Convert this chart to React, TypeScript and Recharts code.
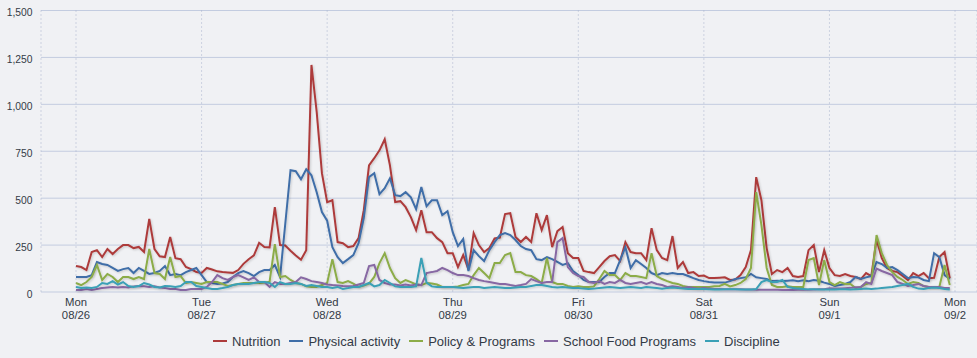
import { CartesianGrid, Legend, Line, LineChart, XAxis, YAxis } from "recharts";

// hourly mentions, Mon 08/26 00:00 -> Sun 09/1 23:00
const nutrition = [
  138, 133, 117, 213, 223, 186, 229, 202, 229, 250, 250, 234, 240, 213, 390, 229, 190, 186, 293, 180, 175, 133, 122, 106,
  101, 128, 120, 110, 106, 104, 102, 117, 150, 175, 195, 262, 240, 238, 452, 250, 248, 220, 195, 172, 222, 1210, 960, 633,
  479, 489, 266, 260, 239, 245, 287, 436, 675, 713, 755, 814, 675, 479, 484, 452, 399, 330, 436, 319, 319, 287, 266, 207,
  207, 133, 197, 120, 314, 250, 213, 234, 285, 290, 415, 420, 293, 266, 293, 266, 420, 330, 410, 239, 324, 346, 207, 181,
  181, 112, 106, 101, 133, 165, 191, 197, 165, 266, 213, 207, 207, 170, 340, 223, 181, 170, 298, 128, 160, 101, 106, 85,
  88, 74, 74, 76, 78, 64, 67, 90, 133, 223, 612, 489, 234, 96, 117, 106, 128, 85, 80, 85, 223, 250, 106, 223,
  128, 90, 85, 96, 85, 80, 69, 101, 85, 280, 181, 128, 112, 106, 85, 64, 101, 85, 101, 74, 76, 186, 213, 74,
];

const physical = [
  80, 80, 80, 90, 160, 149, 144, 128, 112, 122, 128, 101, 128, 112, 96, 101, 112, 138, 90, 96, 90, 106, 117, 128,
  90, 53, 48, 43, 45, 53, 80, 101, 112, 101, 85, 106, 117, 117, 144, 80, 365, 649, 644, 601, 654, 622, 532, 426,
  380, 239, 186, 154, 175, 197, 260, 394, 612, 633, 521, 553, 606, 516, 511, 532, 505, 442, 559, 457, 489, 489, 410, 431,
  319, 245, 282, 112, 223, 191, 165, 223, 266, 303, 314, 303, 277, 245, 229, 223, 175, 170, 186, 175, 160, 144, 154, 112,
  90, 64, 53, 53, 53, 80, 101, 101, 170, 239, 128, 170, 149, 128, 101, 90, 101, 96, 101, 96, 96, 85, 74, 64,
  58, 53, 50, 50, 50, 58, 69, 74, 78, 96, 78, 74, 69, 58, 60, 58, 60, 62, 58, 62, 58, 64, 60, 50,
  43, 32, 37, 43, 53, 80, 69, 78, 85, 160, 149, 128, 133, 117, 96, 74, 80, 78, 64, 58, 207, 186, 90, 69,
];

const policy = [
  48, 37, 53, 80, 144, 64, 96, 80, 53, 80, 80, 69, 80, 69, 229, 101, 96, 69, 186, 80, 85, 48, 53, 48,
  43, 53, 53, 53, 43, 32, 37, 43, 48, 48, 48, 48, 50, 55, 255, 80, 85, 64, 48, 43, 30, 27, 27, 37,
  48, 175, 53, 48, 58, 45, 27, 35, 45, 80, 154, 207, 128, 74, 48, 64, 53, 40, 37, 48, 45, 40, 27, 27,
  27, 30, 37, 43, 90, 128, 101, 74, 154, 154, 197, 207, 106, 106, 90, 85, 69, 48, 181, 53, 43, 43, 32, 27,
  30, 27, 27, 30, 69, 112, 90, 90, 64, 101, 85, 85, 80, 74, 207, 85, 69, 58, 48, 43, 32, 27, 27, 27,
  27, 27, 30, 32, 43, 30, 37, 48, 69, 128, 532, 356, 128, 37, 27, 27, 30, 27, 27, 27, 170, 181, 37, 170,
  53, 37, 53, 43, 43, 21, 27, 43, 48, 303, 207, 144, 106, 80, 64, 43, 53, 48, 32, 27, 27, 27, 144, 37,
];

const schoolFood = [
  11, 11, 16, 11, 16, 21, 24, 27, 24, 27, 24, 30, 32, 30, 27, 30, 24, 21, 16, 16, 11, 11, 16, 16,
  16, 27, 53, 90, 74, 64, 80, 90, 78, 64, 78, 53, 53, 27, 53, 43, 43, 48, 53, 78, 69, 58, 53, 48,
  40, 37, 35, 32, 30, 32, 40, 48, 138, 144, 64, 48, 40, 40, 35, 40, 35, 40, 37, 101, 106, 112, 128, 117,
  101, 90, 90, 85, 74, 64, 58, 53, 48, 43, 43, 37, 32, 37, 43, 69, 58, 48, 53, 53, 266, 287, 133, 101,
  85, 80, 53, 48, 58, 43, 53, 48, 64, 48, 43, 48, 53, 43, 53, 43, 37, 27, 30, 27, 21, 27, 21, 18,
  21, 18, 16, 16, 15, 15, 14, 14, 13, 13, 12, 12, 12, 12, 12, 11, 11, 11, 12, 12, 12, 13, 14, 15,
  20, 18, 18, 20, 22, 25, 27, 53, 43, 125, 112, 101, 90, 53, 43, 32, 37, 43, 32, 27, 27, 27, 21, 21,
];

const discipline = [
  27, 21, 24, 21, 27, 48, 43, 58, 40, 53, 32, 27, 32, 48, 40, 27, 24, 32, 30, 27, 32, 53, 53, 32,
  27, 21, 16, 16, 21, 27, 37, 43, 43, 43, 48, 53, 53, 48, 27, 53, 43, 43, 48, 43, 32, 37, 32, 27,
  27, 21, 27, 16, 21, 27, 27, 37, 48, 30, 37, 64, 48, 30, 27, 27, 27, 30, 181, 50, 30, 27, 27, 27,
  27, 24, 21, 24, 27, 27, 21, 24, 27, 24, 21, 21, 24, 27, 27, 32, 37, 37, 32, 27, 24, 27, 24, 21,
  21, 18, 16, 18, 21, 24, 27, 24, 21, 24, 27, 24, 21, 27, 24, 21, 18, 21, 24, 21, 18, 16, 16, 16,
  16, 14, 13, 13, 14, 14, 14, 13, 13, 13, 16, 53, 64, 53, 53, 64, 27, 21, 18, 16, 14, 14, 13, 13,
  13, 13, 14, 14, 13, 14, 16, 18, 16, 18, 21, 24, 27, 32, 37, 43, 27, 18, 16, 21, 24, 21, 16, 13,
];

const dayTicks = [0, 24, 48, 72, 96, 120, 144, 168];
const dayNames = ["Mon", "Tue", "Wed", "Thu", "Fri", "Sat", "Sun", "Mon"];
const dayDates = ["08/26", "08/27", "08/28", "08/29", "08/30", "08/31", "09/1", "09/2"];
const yTicks = [0, 250, 500, 750, 1000, 1250, 1500];

const series = [
  { key: "nutrition", name: "Nutrition", color: "#ad3b3b" },
  { key: "physical", name: "Physical activity", color: "#3f6ea8" },
  { key: "policy", name: "Policy & Programs", color: "#8cac48" },
  { key: "schoolFood", name: "School Food Programs", color: "#8767a3" },
  { key: "discipline", name: "Discipline", color: "#3aa0b6" },
];

const data = nutrition.map((v, i) => ({
  hour: i,
  nutrition: v,
  physical: physical[i],
  policy: policy[i],
  schoolFood: schoolFood[i],
  discipline: discipline[i],
}));

const FONT = "'Liberation Sans', Arial, sans-serif";
const TEXT = "#333a46";

function DayTick(props: any) {
  const { x, y, payload } = props;
  const i = dayTicks.indexOf(payload.value);
  return (
    <g fontFamily={FONT} fontSize={11.3} fill={TEXT}>
      <text x={x} y={y + 13.7} textAnchor="middle">
        {dayNames[i]}
      </text>
      <text x={x} y={y + 27} textAnchor="middle">
        {dayDates[i]}
      </text>
    </g>
  );
}

function ValueTick(props: any) {
  const { y, payload } = props;
  return (
    <text x={32.5} y={y + 5.7} textAnchor="end" fontFamily={FONT} fontSize={10.3} fill={TEXT}>
      {payload.value.toLocaleString("en-US")}
    </text>
  );
}

function LegendBox() {
  return (
    <div
      style={{
        height: 30,
        boxSizing: "border-box",
        paddingBottom: 4,
        display: "flex",
        alignItems: "center",
        paddingLeft: 213,
        fontFamily: FONT,
        fontSize: 13,
        color: TEXT,
      }}
    >
      {series.map((s) => (
        <span key={s.key} style={{ display: "inline-flex", alignItems: "center", marginRight: 9 }}>
          <svg width={14} height={4} style={{ marginRight: 5 }}>
            <line x1={0} y1={2} x2={14} y2={2} stroke={s.color} strokeWidth={2} />
          </svg>
          {s.name}
        </span>
      ))}
    </div>
  );
}

export default function App() {
  return (
    <div
      style={{
        position: "absolute",
        left: 0,
        top: 0,
        width: 977,
        height: 358,
        background: "#f0f1f4",
      }}
    >
      <LineChart width={977} height={358} data={data} margin={{ top: 10.5, right: 0, left: 0, bottom: 0 }}>
        <defs>
          <filter id="line-shadow" filterUnits="userSpaceOnUse" x="0" y="0" width="977" height="358">
            <feDropShadow dx="1" dy="1" stdDeviation="1" floodColor="#000" floodOpacity="0.18" />
          </filter>
        </defs>
        <CartesianGrid horizontal vertical={false} stroke="#c3cce0" strokeWidth={1} />
        <CartesianGrid horizontal={false} vertical stroke="#a9b3cc" strokeDasharray="1 3" />
        <XAxis
          dataKey="hour"
          type="number"
          domain={[-6.69, 172.2]}
          ticks={dayTicks}
          interval={0}
          tick={<DayTick />}
          tickLine={false}
          axisLine={false}
          tickSize={0}
          tickMargin={0}
          height={36}
          allowDataOverflow
        />
        <YAxis
          domain={[0, 1500]}
          ticks={yTicks}
          interval={0}
          tick={<ValueTick />}
          tickLine={false}
          axisLine={false}
          width={41}
        />
        <Legend verticalAlign="bottom" content={<LegendBox />} />
        {series.map((s) => (
          <Line
            key={s.key}
            type="linear"
            dataKey={s.key}
            name={s.name}
            stroke={s.color}
            strokeWidth={2}
            dot={false}
            activeDot={false}
            isAnimationActive={false}
            filter="url(#line-shadow)"
          />
        ))}
      </LineChart>
    </div>
  );
}
